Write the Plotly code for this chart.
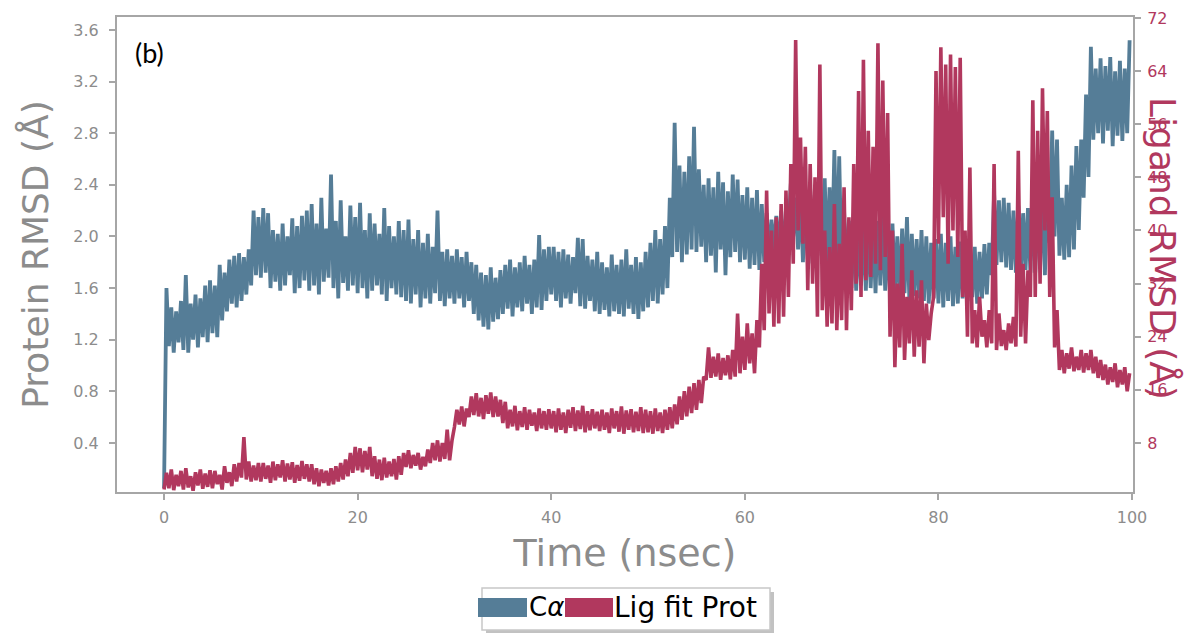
import plotly.graph_objects as go

time_ns = [i * 0.5 for i in range(200)]

ca_low = [
    0.05, 1.15, 1.10, 1.18, 1.12, 1.10, 1.20, 1.14, 1.22, 1.18,
    1.25, 1.22, 1.35, 1.42, 1.48, 1.45, 1.50, 1.55, 1.62, 1.70,
    1.68, 1.72, 1.60, 1.65, 1.58, 1.62, 1.70, 1.56, 1.60, 1.66,
    1.58, 1.62, 1.55, 1.65, 1.68, 1.60, 1.52, 1.64, 1.58, 1.62,
    1.56, 1.60, 1.52, 1.58, 1.62, 1.55, 1.50, 1.60, 1.55, 1.53,
    1.50, 1.48, 1.55, 1.45, 1.52, 1.48, 1.56, 1.50, 1.46, 1.52,
    1.48, 1.52, 1.45, 1.50, 1.40, 1.35, 1.30, 1.28, 1.34, 1.36,
    1.40, 1.44, 1.38, 1.45, 1.42, 1.48, 1.40, 1.45, 1.43, 1.50,
    1.55, 1.50, 1.45, 1.52, 1.48, 1.56, 1.46, 1.44, 1.50, 1.42,
    1.40, 1.43, 1.38, 1.42, 1.40, 1.38, 1.44, 1.40, 1.36, 1.42,
    1.45, 1.50, 1.48, 1.55, 1.60, 1.84, 1.88, 1.80, 1.86, 1.90,
    1.88, 1.92, 1.80, 1.85, 1.72, 1.90, 1.70, 1.84, 1.88, 1.80,
    1.82, 1.75, 1.78, 1.74, 1.80, 1.85, 1.89, 1.86, 1.90, 2.00,
    2.00, 1.90, 1.80, 1.82, 1.79, 1.85, 1.80, 1.76, 1.82, 1.78,
    1.70, 1.65, 1.60, 1.58, 1.62, 1.58, 1.60, 1.56, 1.62, 1.58,
    1.55, 1.58, 1.53, 1.56, 1.50, 1.54, 1.52, 1.50, 1.48, 1.52,
    1.48, 1.45, 1.50, 1.46, 1.48, 1.52, 1.50, 1.53, 1.48, 1.52,
    1.55, 1.70, 1.78, 1.80, 1.76, 1.74, 1.72, 1.70, 1.74, 1.72,
    1.72, 1.75, 1.70, 1.95, 2.00, 1.85, 1.82, 1.84, 1.90, 2.05,
    2.30, 2.46, 2.75, 2.80, 2.72, 2.82, 2.70, 2.78, 2.74, 2.80,
]
ca_high = [
    1.60, 1.45, 1.42, 1.50, 1.70, 1.48, 1.55, 1.52, 1.62, 1.66,
    1.62, 1.78, 1.72, 1.82, 1.85, 1.87, 1.84, 1.90, 2.20, 2.15,
    2.22, 2.18, 2.05, 2.02, 2.10, 2.00, 2.14, 2.08, 2.16, 2.20,
    2.25, 2.10, 2.30, 2.06, 2.48, 2.12, 2.28, 2.00, 2.24, 2.15,
    2.26, 2.05, 2.18, 2.10, 2.02, 2.22, 2.08, 2.00, 2.12, 2.05,
    2.13, 1.98, 2.05, 1.95, 2.02, 1.92, 2.20, 1.88, 1.90, 1.85,
    1.90, 1.84, 1.88, 1.80, 1.78, 1.72, 1.70, 1.76, 1.68, 1.74,
    1.78, 1.82, 1.76, 1.80, 1.85, 1.78, 1.82, 2.01, 1.90, 1.92,
    1.92, 1.88, 1.90, 1.86, 1.84, 1.99, 1.98, 1.85, 1.82, 1.88,
    1.80, 1.76, 1.86, 1.78, 1.82, 1.90, 1.78, 1.84, 1.80, 1.88,
    1.95, 2.05, 1.98, 2.08, 2.30, 2.88, 2.55, 2.50, 2.62, 2.85,
    2.52, 2.40, 2.45, 2.38, 2.50, 2.42, 2.35, 2.48, 2.44, 2.32,
    2.38, 2.30, 2.36, 2.25, 2.18, 2.13, 2.16, 2.20, 2.15, 2.41,
    2.30, 2.35, 2.28, 2.32, 2.40, 2.36, 2.45, 2.38, 2.67, 2.62,
    2.20, 2.12, 2.18, 2.05, 2.10, 2.16, 2.08, 2.12, 2.15, 2.05,
    2.10, 2.00, 2.06, 2.15, 2.02, 1.98, 2.05, 2.00, 1.95, 1.98,
    2.02, 1.95, 2.00, 1.92, 1.96, 1.90, 1.95, 1.92, 1.88, 1.94,
    1.95, 2.33, 2.28, 2.30, 2.26, 2.20, 2.24, 2.18, 2.22, 2.35,
    2.40, 2.43, 2.38, 2.82, 2.75, 2.30, 2.40, 2.55, 2.70, 2.75,
    3.10, 3.47, 3.30, 3.38, 3.32, 3.39, 3.28, 3.36, 3.30, 3.52,
]

lig_low = [
    1.0, 1.2, 0.9, 1.5, 1.0, 1.3, 0.8, 1.6, 1.1, 1.4,
    1.2, 1.8, 1.0, 2.0, 1.5, 2.2, 2.8, 2.5, 2.2, 2.4,
    2.2, 2.6, 2.0, 2.4, 2.8, 2.2, 2.5, 2.0, 2.3, 2.6,
    2.2, 1.8, 1.5, 2.0, 1.6, 1.8, 2.2, 2.5, 3.0, 3.5,
    3.9, 3.6, 4.0, 3.0, 2.6, 2.4, 2.8, 3.0, 2.5, 3.2,
    4.4, 4.2, 4.6, 4.0, 4.5, 5.0, 5.4, 5.2, 5.6, 5.4,
    10.4, 10.8, 10.5, 11.9, 12.2, 12.0, 11.6, 12.4, 11.9, 12.0,
    11.0, 10.2, 10.5, 9.9, 10.4, 10.0, 10.6, 9.8, 10.2, 10.0,
    10.2, 9.6, 10.0, 9.5, 10.3, 9.8, 10.1, 9.6, 9.9, 10.2,
    9.8, 10.0, 9.5, 10.2, 9.7, 9.4, 10.0, 9.6, 9.8, 9.5,
    9.6, 9.4, 9.8, 9.5, 10.0, 10.2, 10.8, 11.5, 12.0, 12.5,
    13.0, 14.0, 17.5, 17.8, 18.0, 17.5, 18.2, 17.6, 18.0, 18.5,
    19.0, 20.0, 18.5, 22.4, 25.0, 27.5, 25.5, 26.0, 27.0, 30.0,
    35.0, 40.0, 38.0, 31.0, 32.0, 27.0, 28.0, 25.5, 26.0, 25.0,
    26.5, 25.0, 28.0, 32.0, 30.0, 32.5, 33.0, 35.0, 34.0, 36.0,
    24.0, 19.4, 22.4, 20.5, 23.0, 21.0, 22.5, 20.0, 23.5, 30.0,
    38.0, 42.0, 35.0, 40.0, 36.0, 30.0, 24.0, 23.0, 22.4, 24.0,
    22.4, 23.0, 22.0, 22.6, 22.0, 23.0, 22.5, 24.0, 23.0, 30.0,
    30.0, 32.0, 40.0, 30.0, 22.4, 19.0, 18.5, 19.2, 18.8, 19.0,
    18.6, 19.0, 18.5, 17.8, 17.5, 16.8, 17.2, 16.4, 16.8, 15.8,
]
lig_high = [
    3.5, 4.0, 3.2, 3.8, 4.2, 3.0, 3.6, 4.0, 3.4, 3.9,
    3.8, 3.2, 4.5, 3.6, 4.8, 5.0, 8.9, 5.2, 4.6, 5.0,
    5.0, 4.6, 5.2, 4.8, 5.4, 4.9, 5.1, 4.7, 5.3, 4.8,
    4.8, 4.2, 4.0, 3.8, 4.2, 4.5, 5.0, 5.5, 6.5, 7.4,
    7.2, 6.8, 7.4, 6.0, 5.5, 5.8, 5.2, 5.6, 6.0, 6.5,
    6.9, 6.2, 6.5, 5.9, 7.0, 8.0, 8.4, 8.0, 10.0, 8.4,
    13.0, 13.5, 13.2, 15.0, 15.5, 14.8, 15.2, 15.6, 15.0, 14.5,
    14.2, 13.0, 13.6, 12.8, 13.4, 13.0, 12.6, 13.2, 12.8, 13.1,
    12.8, 13.2, 12.6, 13.0, 13.4, 12.9, 13.6, 12.8, 13.1, 12.7,
    13.0, 12.6, 13.2, 12.8, 13.5, 12.9, 13.1, 12.7, 13.4, 13.0,
    12.8, 13.2, 12.6, 13.0, 13.4, 13.8, 15.0, 15.8, 16.5, 17.0,
    17.5, 18.0, 22.4, 21.0, 21.5, 20.8, 21.2, 22.0, 27.5, 24.0,
    26.0, 24.5, 26.5, 35.0, 46.0, 40.0, 42.0, 44.0, 46.0, 50.0,
    68.7, 54.0, 52.6, 50.0, 48.0, 65.0, 40.0, 37.5, 44.0, 38.0,
    46.5, 42.0, 50.0, 61.0, 65.7, 55.0, 52.6, 68.2, 62.6, 57.7,
    40.0, 32.0, 38.0, 30.0, 34.0, 31.0, 32.5, 29.0, 27.5, 64.0,
    67.6, 65.0, 66.5, 64.6, 66.0, 40.0, 49.5, 28.0, 30.0, 26.5,
    28.0, 50.0, 27.5, 25.0, 26.0, 27.0, 52.0, 35.0, 34.0, 59.6,
    55.0, 61.4, 58.0, 45.0, 28.0, 22.0, 21.5, 22.4, 21.0, 22.0,
    21.5, 22.0, 21.0, 20.5, 19.8, 19.4, 20.0, 19.0, 19.4, 18.5,
]

x_ticks = [0, 20, 40, 60, 80, 100]
y_ticks = [0.4, 0.8, 1.2, 1.6, 2.0, 2.4, 2.8, 3.2, 3.6]
y2_ticks = [8, 16, 24, 32, 40, 48, 56, 64, 72]

BLUE = "#557d97"
RED = "#b1385e"
GREY = "#8c8c8c"

# plot-area geometry in pixels (used to place the hand-drawn legend)
W, H = 1198, 633
ML, MR, MT, MB = 117, 65, 17, 141
PW, PH = W - ML - MR, H - MT - MB


def px(x):
    return (x - ML) / PW


def py(y):
    return (H - MB - y) / PH


def zigzag(t, lo, hi):
    xs, ys = [], []
    for ti, a, b in zip(t, lo, hi):
        xs += [ti, ti + 0.25]
        ys += [a, b]
    return xs, ys


cx, cy = zigzag(time_ns, ca_low, ca_high)
lx, ly = zigzag(time_ns, lig_low, lig_high)

fig = go.Figure()
fig.add_trace(go.Scatter(x=cx, y=cy, mode="lines", line=dict(color=BLUE, width=3.8, simplify=False),
                         showlegend=False, yaxis="y"))
fig.add_trace(go.Scatter(x=lx, y=ly, mode="lines", line=dict(color=RED, width=3.6, simplify=False),
                         showlegend=False, yaxis="y2"))

axis_common = dict(showgrid=False, zeroline=False, showline=True, linecolor="#a6a6a6",
                   linewidth=2, ticks="outside", ticklen=6, tickcolor="#a6a6a6", tickwidth=1.5,
                   automargin=False)

shapes = [
    # legend shadow and box
    dict(type="rect", xref="paper", yref="paper", x0=px(486), x1=px(774), y0=py(633), y1=py(592),
         fillcolor="#9a9a9a", line=dict(width=0), layer="above", opacity=0.6),
    dict(type="rect", xref="paper", yref="paper", x0=px(482), x1=px(770), y0=py(630), y1=py(588),
         fillcolor="white", line=dict(color="#c8c8c8", width=1.5), layer="above"),
    # legend swatches
    dict(type="rect", xref="paper", yref="paper", x0=px(478), x1=px(527), y0=py(617), y1=py(598),
         fillcolor=BLUE, line=dict(width=0), layer="above"),
    dict(type="rect", xref="paper", yref="paper", x0=px(565), x1=px(613), y0=py(617), y1=py(598),
         fillcolor=RED, line=dict(width=0), layer="above"),
]

annotations = [
    dict(text="(b)", xref="paper", yref="paper", x=px(133), y=py(34), showarrow=False,
         xanchor="left", yanchor="top", font=dict(family="Lato", size=27, color="black")),
    dict(text="Ligand RMSD (Å)", xref="paper", yref="paper", x=px(1163), y=py(248),
         showarrow=False, textangle=90, xanchor="center", yanchor="middle",
         font=dict(size=36, color=RED)),
    dict(text="C<i>α</i>", xref="paper", yref="paper", x=px(527), y=py(607), showarrow=False,
         xanchor="left", yanchor="middle", font=dict(size=26, color="black")),
    dict(text="Lig fit Prot", xref="paper", yref="paper", x=px(612), y=py(607), showarrow=False,
         xanchor="left", yanchor="middle", font=dict(size=28, color="black")),
]

fig.update_layout(
    width=W, height=H,
    margin=dict(l=ML, r=MR, t=MT, b=MB, autoexpand=False),
    paper_bgcolor="white", plot_bgcolor="white",
    font=dict(family="DejaVu Sans", color=GREY),
    showlegend=False,
    xaxis=dict(range=[-4.86, 100.1], tickvals=x_ticks, mirror=True,
               tickfont=dict(size=16, color=GREY), ticklabelstandoff=4,
               title=dict(text="Time (nsec)", font=dict(size=38, color=GREY), standoff=13),
               **axis_common),
    yaxis=dict(range=[0.02, 3.70], tickvals=y_ticks, tickformat=".1f",
               tickfont=dict(size=16, color=GREY), ticklabelstandoff=7,
               title=dict(text="Protein RMSD (Å)", font=dict(size=36, color=GREY), standoff=14),
               **axis_common),
    yaxis2=dict(range=[0.62, 72.15], tickvals=y2_ticks, overlaying="y", side="right",
                tickfont=dict(size=16, color=RED), ticklabelstandoff=3, **axis_common),
    shapes=shapes,
    annotations=annotations,
)

fig.write_html("out.html", config={"displayModeBar": False},
               post_script="document.body.style.margin='0';document.body.style.overflow='hidden';")
